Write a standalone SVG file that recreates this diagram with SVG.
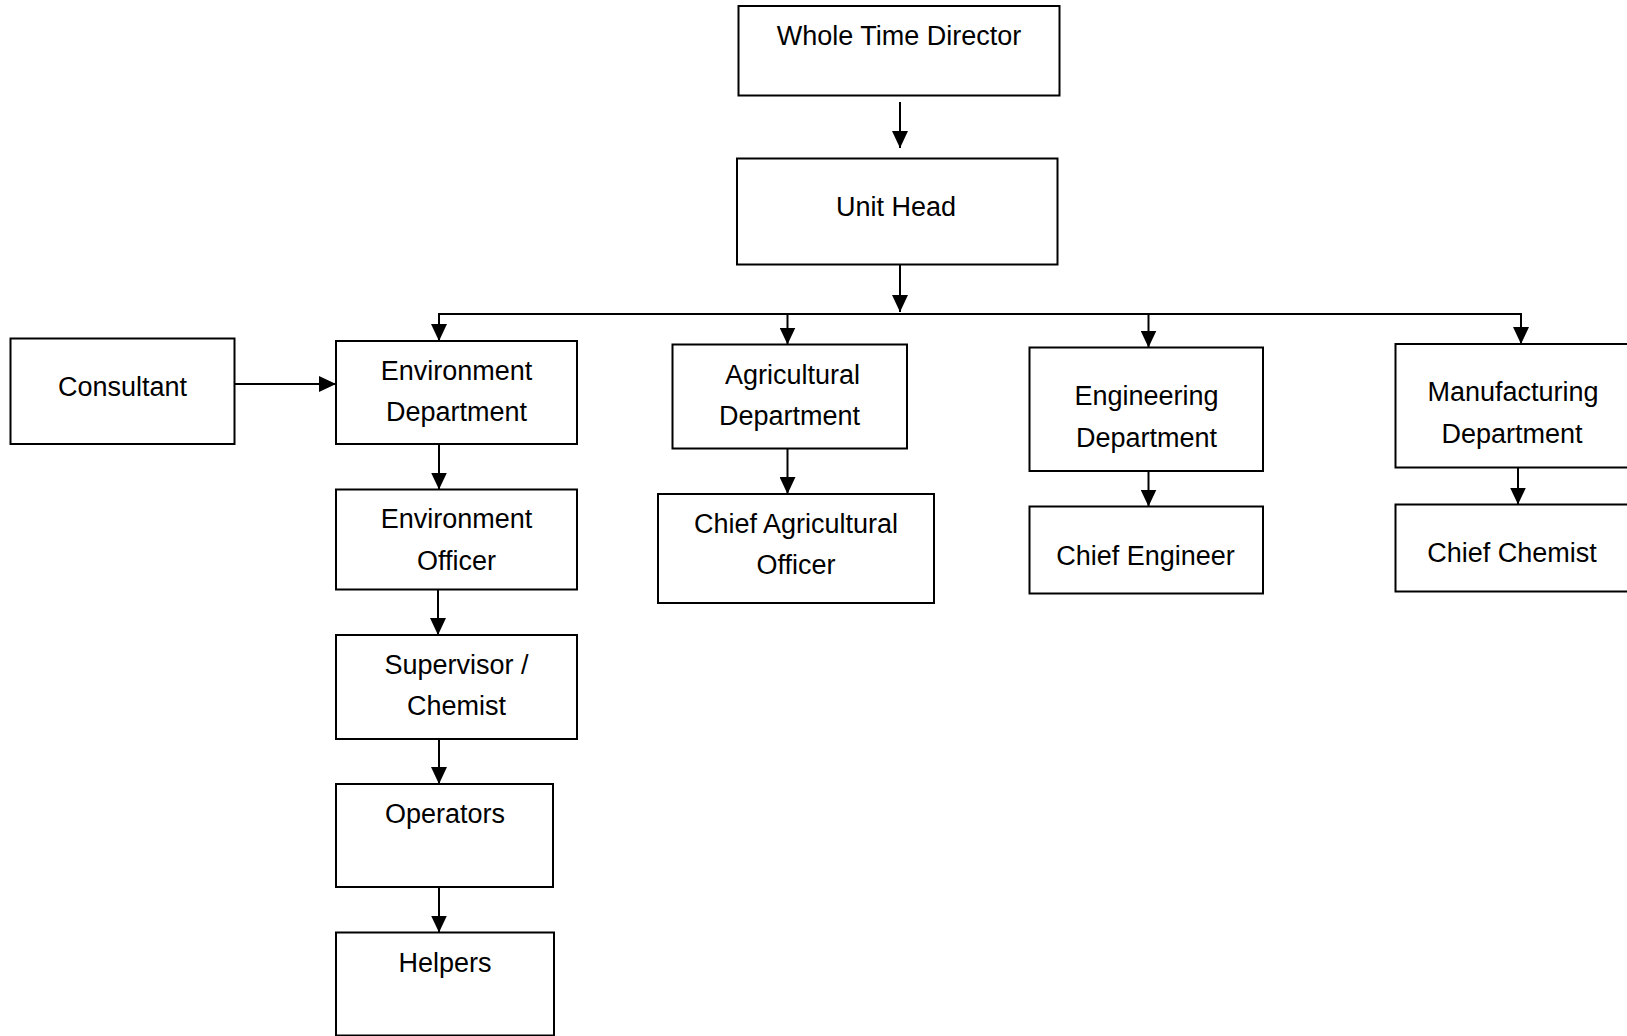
<svg xmlns="http://www.w3.org/2000/svg" width="1627" height="1036" viewBox="0 0 1627 1036">
<style>
.box{fill:#fff;stroke:#000;stroke-width:2}
.t{font-family:"Liberation Sans",Arial,sans-serif;font-size:27px;fill:#000;text-anchor:middle}
.c{stroke:#000;stroke-width:2;fill:none}
</style>
<defs>
<marker id="ah" markerUnits="userSpaceOnUse" markerWidth="17" markerHeight="16" refX="17" refY="8" orient="auto" viewBox="0 0 17 16">
<path d="M0,0 L17,8 L0,16 z" fill="#000"/>
</marker>
</defs>
<rect width="1627" height="1036" fill="#fff"/>
<g id="connectors">
<line class="c" x1="900" y1="102" x2="900" y2="148" marker-end="url(#ah)"/>
<line class="c" x1="900" y1="265" x2="900" y2="312" marker-end="url(#ah)"/>
<polyline class="c" points="439,330 439,314 1521,314 1521,330"/>
<line class="c" x1="439" y1="314" x2="439" y2="341" marker-end="url(#ah)"/>
<line class="c" x1="787.5" y1="314" x2="787.5" y2="344.5" marker-end="url(#ah)"/>
<line class="c" x1="1148.5" y1="314" x2="1148.5" y2="347.5" marker-end="url(#ah)"/>
<line class="c" x1="1521" y1="314" x2="1521" y2="344" marker-end="url(#ah)"/>
<line class="c" x1="234.5" y1="384" x2="336" y2="384" marker-end="url(#ah)"/>
<line class="c" x1="439" y1="444" x2="439" y2="489.5" marker-end="url(#ah)"/>
<line class="c" x1="438" y1="589.5" x2="438" y2="635" marker-end="url(#ah)"/>
<line class="c" x1="439" y1="739" x2="439" y2="784" marker-end="url(#ah)"/>
<line class="c" x1="439" y1="887" x2="439" y2="932.5" marker-end="url(#ah)"/>
<line class="c" x1="787.5" y1="448.5" x2="787.5" y2="494" marker-end="url(#ah)"/>
<line class="c" x1="1148.5" y1="471" x2="1148.5" y2="506.5" marker-end="url(#ah)"/>
<line class="c" x1="1518" y1="467.5" x2="1518" y2="504.5" marker-end="url(#ah)"/>
</g>
<g id="n-wtd"><rect class="box" x="738.5" y="6" width="321" height="89.5"/><text class="t" x="899" y="44.5">Whole Time Director</text></g>
<g id="n-unit"><rect class="box" x="737" y="158.5" width="320.5" height="106"/><text class="t" x="896" y="216">Unit Head</text></g>
<g id="n-consultant"><rect class="box" x="10.5" y="338.5" width="224" height="105.5"/><text class="t" x="122.5" y="395.5">Consultant</text></g>
<g id="n-envdept"><rect class="box" x="336" y="341" width="241" height="103"/><text class="t" x="456.5" y="379.5">Environment</text><text class="t" x="456.5" y="421">Department</text></g>
<g id="n-envofficer"><rect class="box" x="336" y="489.5" width="241" height="100"/><text class="t" x="456.5" y="528">Environment</text><text class="t" x="456.5" y="569.5">Officer</text></g>
<g id="n-supervisor"><rect class="box" x="336" y="635" width="241" height="104"/><text class="t" x="456.5" y="673.5">Supervisor /</text><text class="t" x="456.5" y="715">Chemist</text></g>
<g id="n-operators"><rect class="box" x="336" y="784" width="217" height="103"/><text class="t" x="445" y="823">Operators</text></g>
<g id="n-helpers"><rect class="box" x="336" y="932.5" width="218" height="103"/><text class="t" x="445" y="971.5">Helpers</text></g>
<g id="n-agridept"><rect class="box" x="672.5" y="344.5" width="234.5" height="104"/><text class="t" x="792.5" y="384">Agricultural</text><text class="t" x="789.5" y="424.5">Department</text></g>
<g id="n-chiefagri"><rect class="box" x="658" y="494" width="276" height="109"/><text class="t" x="796" y="532.5">Chief Agricultural</text><text class="t" x="796" y="574">Officer</text></g>
<g id="n-engdept"><rect class="box" x="1029.5" y="347.5" width="233.5" height="123.5"/><text class="t" x="1146.5" y="405">Engineering</text><text class="t" x="1146.5" y="447">Department</text></g>
<g id="n-chiefeng"><rect class="box" x="1029.5" y="506.5" width="233.5" height="87"/><text class="t" x="1145.5" y="564.5">Chief Engineer</text></g>
<g id="n-mfgdept"><rect class="box" x="1395.5" y="344" width="240" height="123.5"/><text class="t" x="1513" y="400.5">Manufacturing</text><text class="t" x="1512" y="443">Department</text></g>
<g id="n-chiefchem"><rect class="box" x="1395.5" y="504.5" width="240" height="87"/><text class="t" x="1512" y="561.5">Chief Chemist</text></g>
</svg>
